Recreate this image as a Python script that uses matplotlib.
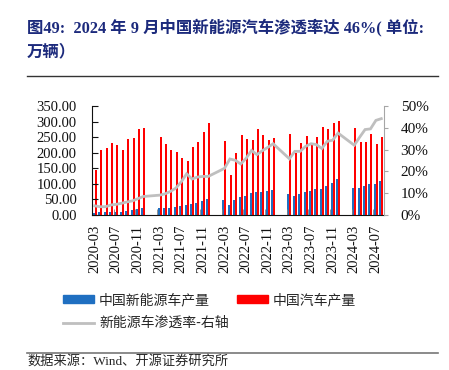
import matplotlib
matplotlib.use("Agg")
import matplotlib.pyplot as plt
import numpy as np
from matplotlib.lines import Line2D
from matplotlib.patches import Patch

plt.rcParams['font.family'] = ['Liberation Serif', 'Noto Sans CJK SC']
plt.rcParams['axes.unicode_minus'] = False

nan = np.nan

# months 2020-03 .. 2024-08 (Jan/Feb are not published separately)
months = ['2020-%02d' % m for m in range(3, 13)]
for yr in range(2021, 2024):
    months += ['%d-%02d' % (yr, m) for m in range(1, 13)]
months += ['2024-%02d' % m for m in range(1, 9)]

# 中国汽车产量 (万辆)
total = [144, 209, 214, 230, 225, 209, 244, 246, 276, 278,
         nan, nan, 250, 227, 209, 202, 184, 173, 217, 233, 266, 296,
         nan, nan, 238, 127, 200, 257, 243, 241, 275, 256, 241, 248,
         nan, nan, 259, 198, 230, 255, 232, 249, 283, 275, 294, 302,
         nan, nan, 278, 235, 235, 260, 228, 250]

# 中国新能源车产量 (万辆)
nev = [5.3, 8.1, 8.8, 10.2, 10.0, 10.5, 13.6, 16.4, 19.8, 23.5,
       nan, nan, 21, 22, 22, 25, 28.5, 31, 35, 39.5, 46, 52,
       nan, nan, 49, 32, 48, 59, 61, 70, 74, 75, 76, 80,
       nan, nan, 66, 61, 68, 75, 77, 82, 85, 92, 102, 114,
       nan, nan, 87, 86, 92, 101, 98, 109]

# 新能源车渗透率 (%)
rate = [4.2, 3.8, 3.8, 4.6, 4.9, 5.4, 6.0, 6.5, 7.5, 8.5,
        nan, nan, 9.1, 9.7, 10.8, 12.3, 15.2, 18.9, 16.5, 17.4, 17.7, 17.7,
        nan, nan, 21.4, 25.7, 25.1, 23.4, 26.0, 29.6, 27.7, 29.5, 31.0, 32.7,
        nan, nan, 25.8, 29.2, 29.2, 31.5, 32.7, 32.3, 30.5, 33.8, 34.3, 37.6,
        nan, nan, 32.0, 35.7, 39.2, 39.5, 43.4, 44.2]

blue = '#1F6FC1'
red = '#FF0000'
grey = '#BFBFBF'
navy = '#1C2A7C'

fig = plt.figure(figsize=(4.49, 3.70), dpi=100)
ax = fig.add_axes([92/449, 1-215/370, 292/449, 109/370])

x = np.arange(len(months))
w = 0.37
ax.bar(x - w/2, nev, w, color=blue, linewidth=0)
ax.bar(x + w/2, total, w, color=red, linewidth=0)
ax.set_xlim(-0.5, len(months) - 0.5)
ax.set_ylim(0, 350)
ax.set_yticks(np.arange(0, 351, 50))
ax.set_yticklabels(['%.2f' % v for v in np.arange(0, 351, 50)], fontsize=10.5)
ax.tick_params(axis='y', direction='in', length=4, pad=11, colors='#111111')

tick_idx = x[::4]
ax.set_xticks(tick_idx)
ax.set_xticklabels([months[i] for i in tick_idx], rotation=90, fontsize=10.5)
ax.tick_params(axis='x', length=0, pad=7, colors='#111111')
ax.set_xticks(tick_idx[1:] - 0.5, minor=True)
ax.tick_params(axis='x', which='minor', direction='in', length=4, color='#808080')

for s in ['top', 'right']:
    ax.spines[s].set_visible(False)
ax.spines['left'].set_color('#111111')
ax.spines['bottom'].set_color('#111111')

ax2 = ax.twinx()
r = np.array(rate)
ok = ~np.isnan(r)
ax2.plot(x[ok], r[ok], color=grey, lw=2.0, solid_joinstyle='miter')
ax2.set_ylim(0, 50)
ax2.set_yticks(np.arange(0, 51, 10))
ax2.set_yticklabels(['%d%%' % v for v in np.arange(0, 51, 10)], fontsize=11)
ax2.tick_params(axis='y', direction='out', length=3, pad=9, color='#A6A6A6', labelcolor='#111111')
for s in ['top', 'left', 'bottom']:
    ax2.spines[s].set_visible(False)
ax2.spines['right'].set_color('#A6A6A6')

handles = [Patch(color=blue), Line2D([], [], color=grey, lw=2.0), Patch(color=red)]
labels = ['中国新能源车产量', '新能源车渗透率-右轴', '中国汽车产量']
fig.legend(handles, labels, ncol=2, loc='upper left',
           bbox_to_anchor=(56/449, 1-286/370), frameon=False,
           prop={'family': ['Noto Sans CJK SC'], 'size': 10},
           handlelength=2.2, handleheight=0.5, handletextpad=0.4,
           columnspacing=0.6, labelspacing=0.65, borderpad=0,
           labelcolor='#262626')

fig.text(27/449, 1-27/370, '图49:  2024 年 9 月中国新能源汽车渗透率达 46%( 单位:',
         fontsize=11.8, fontweight='bold', color=navy, va='center', ha='left')
fig.text(27/449, 1-52/370, '万辆）', fontsize=11.8, fontweight='bold',
         color=navy, va='center', ha='left')
fig.add_artist(Line2D([27/449, 438/449], [1-76/370, 1-76/370], color='#333333', lw=1))
fig.add_artist(Line2D([27/449, 438/449], [1-353/370, 1-353/370], color='#777777', lw=1.2))
fig.text(27/449, 1-355/370, '数据来源：Wind、开源证券研究所', fontsize=9.5,
         color='#262626', va='top', ha='left')

fig.savefig('out.png', dpi=100)
